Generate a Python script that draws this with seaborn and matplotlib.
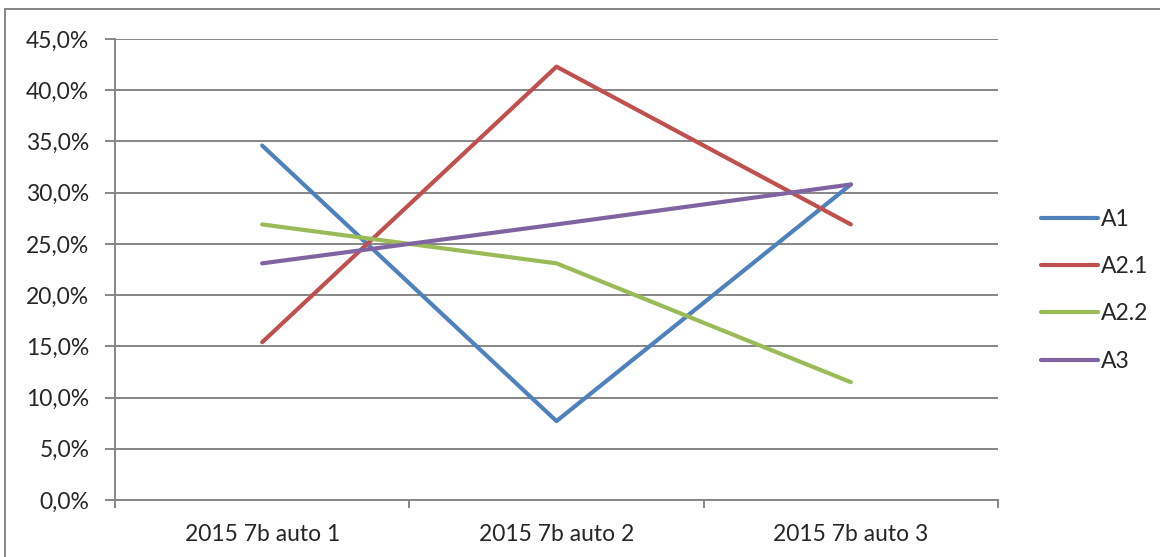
import numpy as np
import pandas as pd
import seaborn as sns
from matplotlib import pyplot as plt
from matplotlib.ticker import FuncFormatter, FixedLocator

categories = ["2015 7b auto 1", "2015 7b auto 2", "2015 7b auto 3"]
series_names = ["A1", "A2.1", "A2.2", "A3"]
a1 = [0.346, 0.077, 0.308]
a21 = [0.154, 0.423, 0.269]
a22 = [0.269, 0.231, 0.115]
a3 = [0.231, 0.269, 0.308]
colors = ["#4F81BD", "#C0504D", "#9BBB59", "#8064A2"]

# long form table for seaborn
rows = []
for name, vals in zip(series_names, [a1, a21, a22, a3]):
    for cat, v in zip(categories, vals):
        rows.append({"cat": cat, "serie": name, "value": v})
df = pd.DataFrame(rows)

sns.set_style("white")
plt.rcParams['font.family'] = ['Lato', 'DejaVu Sans']
FS = 16.5

fig = plt.figure(figsize=(11.6, 5.57), dpi=100)
ax = fig.add_axes([115 / 1160, 1 - 500 / 557, (998 - 115) / 1160, (500 - 39) / 557])

sns.lineplot(data=df, x="cat", y="value", hue="serie", palette=colors,
             linewidth=3, ax=ax, sort=False, solid_capstyle="round")

grid_c = "#868686"
ax.set_xlim(-0.5, 2.5)
ax.set_ylim(0, 0.45)
ax.set_yticks(np.arange(0, 0.451, 0.05))
ax.yaxis.set_major_formatter(FuncFormatter(lambda v, p: f"{v * 100:.1f}%".replace(".", ",")))
ax.grid(axis="y", color=grid_c, linewidth=1.4)
ax.set_axisbelow(True)
for s in ["top", "right"]:
    ax.spines[s].set_visible(False)
for s in ["left", "bottom"]:
    ax.spines[s].set_color(grid_c)
    ax.spines[s].set_linewidth(1.4)

ax.xaxis.set_minor_locator(FixedLocator([-0.5, 0.5, 1.5, 2.5]))
ax.tick_params(axis="x", which="major", bottom=True, length=0, pad=17, labelsize=FS)
ax.tick_params(axis="x", which="minor", bottom=True, direction="out", length=6, width=1.4, color=grid_c)
ax.tick_params(axis="y", left=True, direction="out", length=7, width=1.4, color=grid_c, pad=11.5, labelsize=FS)
ax.set_xlabel("")
ax.set_ylabel("")

handles, labels = ax.get_legend_handles_labels()
leg = ax.legend(handles, labels, loc="center left", bbox_to_anchor=(1.025, 0.455),
                frameon=False, fontsize=FS, handlelength=2.5, handletextpad=0.15,
                labelspacing=1.15)
for h in leg.get_lines():
    h.set_solid_capstyle("round")

# chart border like the spreadsheet export (only top/left visible)
fig.patches.append(plt.Rectangle((5 / 1160, -0.05), 1.1, 1.05 - 9 / 557,
                                 transform=fig.transFigure, fill=False,
                                 edgecolor=grid_c, linewidth=1.4))

fig.savefig("out.png", dpi=100)
